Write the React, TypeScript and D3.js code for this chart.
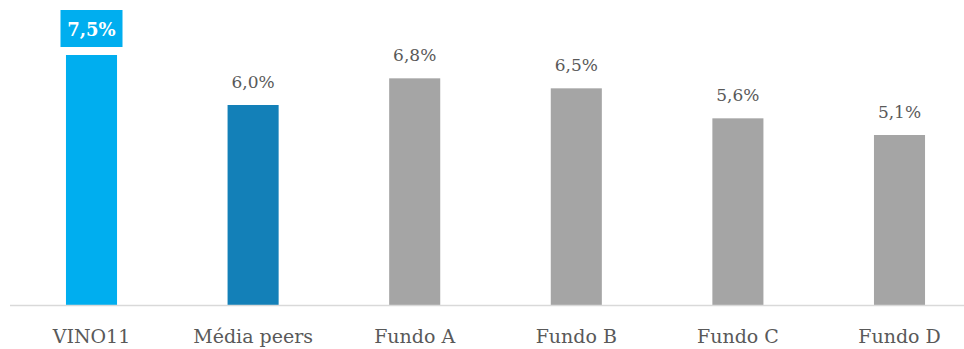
import React from "react";
import * as d3 from "d3";

const categories = ["VINO11", "Média peers", "Fundo A", "Fundo B", "Fundo C", "Fundo D"];
const values = [7.5, 6.0, 6.8, 6.5, 5.6, 5.1];
const labels = ["7,5%", "6,0%", "6,8%", "6,5%", "5,6%", "5,1%"];
const colors = ["#00AEEF", "#1380B8", "#A5A5A5", "#A5A5A5", "#A5A5A5", "#A5A5A5"];

export default function App() {
  const W = 964, H = 349;
  const x = d3.scaleBand<string>().domain(categories).range([10.7, 980.3]).paddingInner(0.684).paddingOuter(0.342);
  const y = d3.scaleLinear().domain([0, 7.5]).range([305, 55]);
  const font = "'DejaVu Serif', serif";
  return (
    <svg width={W} height={H} style={{ position: "absolute", left: 0, top: 0 }}>
      <rect width={W} height={H} fill="#fff" />
      {categories.map((c, i) => {
        const bx = x(c)!;
        const bw = x.bandwidth();
        const cx = bx + bw / 2;
        const top = y(values[i]);
        return (
          <g key={c}>
            <rect x={bx} y={top} width={bw} height={y(0) - top} fill={colors[i]} />
            {i === 0 ? (
              <g>
                <rect x={cx - 31} y={top - 45} width={62} height={37} fill="#00AEEF" />
                <text x={cx} y={top - 19} textAnchor="middle" fontFamily={font} fontSize={18} fontWeight="bold" fill="#fff">{labels[i]}</text>
              </g>
            ) : (
              <text x={cx} y={top - 17} textAnchor="middle" fontFamily={font} fontSize={17} fill="#595959">{labels[i]}</text>
            )}
            <text x={cx} y={343} textAnchor="middle" fontFamily={font} fontSize={19} fill="#595959">{c}</text>
          </g>
        );
      })}
      <line x1={10} x2={964} y1={305.5} y2={305.5} stroke="#D9D9D9" strokeWidth={1.5} />
    </svg>
  );
}
